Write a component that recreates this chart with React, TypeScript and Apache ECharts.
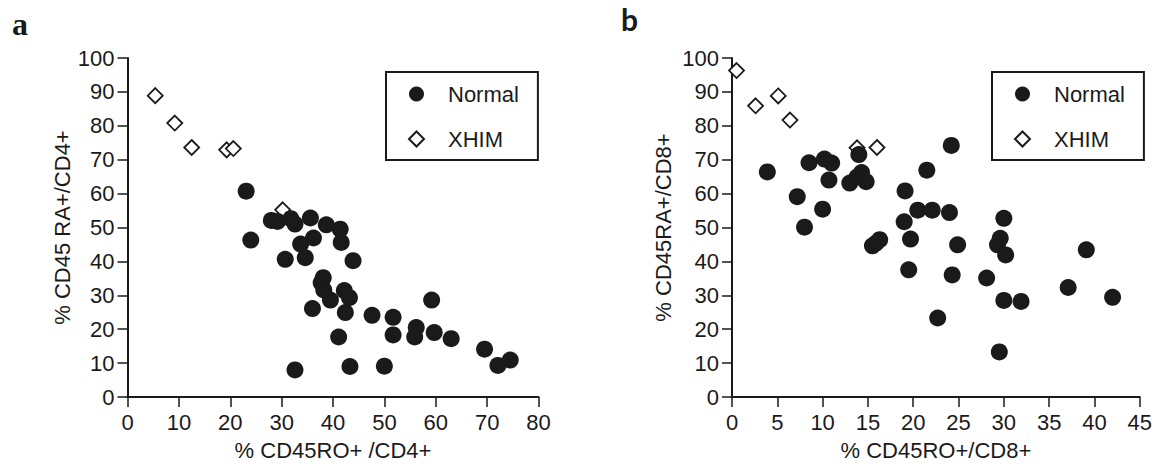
import React, { useEffect, useRef } from "react";
import * as echarts from "echarts";

// Panel a: % CD45RO+/CD4+ (x) vs % CD45 RA+/CD4+ (y)
const normalA: [number, number][] = [
  [23.1, 60.7], [24.0, 46.3], [28.0, 52.1], [29.2, 51.8], [31.8, 52.6], [32.6, 51.0],
  [30.7, 40.6], [33.7, 45.1], [34.6, 41.1], [35.6, 52.8], [36.2, 46.9], [36.0, 26.1],
  [38.1, 35.2], [37.7, 33.7], [38.2, 31.6], [39.5, 28.6], [38.7, 50.8], [41.4, 49.5],
  [41.6, 45.6], [43.9, 40.2], [42.2, 31.4], [43.2, 29.3], [42.4, 24.9], [41.1, 17.7],
  [32.6, 8.0], [43.3, 9.0], [47.6, 24.1], [51.7, 23.5], [51.7, 18.3], [50.0, 9.1],
  [56.2, 20.5], [55.9, 17.7], [59.2, 28.6], [59.7, 19.0], [63.0, 17.2], [69.5, 14.1],
  [72.1, 9.3], [74.5, 10.9],
];
const xhimA: [number, number][] = [
  [5.4, 88.9], [9.2, 80.8], [12.5, 73.6], [19.3, 72.9], [20.6, 73.3], [30.2, 55.2],
];

// Panel b: % CD45RO+/CD8+ (x) vs % CD45RA+/CD8+ (y)
const normalB: [number, number][] = [
  [3.9, 66.4], [7.2, 59.1], [8.5, 69.1], [8.0, 50.1], [10.0, 55.4], [10.2, 70.2],
  [11.0, 69.0], [10.7, 64.0], [13.0, 63.1], [14.0, 71.5], [14.3, 66.2], [13.8, 64.9],
  [14.8, 63.5], [15.5, 44.6], [16.3, 46.4], [15.9, 45.4], [19.1, 60.8], [19.0, 51.7],
  [19.7, 46.6], [19.5, 37.5], [20.5, 55.1], [21.5, 66.9], [22.1, 55.1], [22.7, 23.3],
  [24.2, 74.2], [24.0, 54.4], [24.9, 44.9], [24.3, 36.0], [28.1, 35.1], [29.3, 44.9],
  [29.6, 46.8], [30.0, 52.7], [30.2, 41.9], [30.0, 28.5], [31.9, 28.2], [29.5, 13.3],
  [37.1, 32.3], [39.1, 43.4], [42.0, 29.4],
];
const xhimB: [number, number][] = [
  [0.5, 96.3], [2.6, 85.9], [5.1, 88.8], [6.4, 81.7], [13.8, 73.5], [16.0, 73.6],
];

const seriesNames = ["Normal", "XHIM"];
const xNames = ["% CD45RO+ /CD4+", "% CD45RO+/CD8+"];
const yNames = ["% CD45 RA+/CD4+", "% CD45RA+/CD8+"];
const xMax = [80, 45];
const xStep = [10, 5];
const panelLetters = ["a", "b"];

const FONT = "'Liberation Sans', Arial, Helvetica, sans-serif";
const INK = "#1a1a1a";

export default function App() {
  const ref = useRef<HTMLDivElement>(null);
  useEffect(() => {
    if (!ref.current) return;
    const chart = echarts.init(ref.current, null, { renderer: "svg" });
    const axisCommon = {
      axisLine: { lineStyle: { color: INK, width: 2 } },
      axisTick: { length: 10, lineStyle: { color: INK, width: 1.5 } },
      splitLine: { show: false },
      nameLocation: "middle" as const,
      nameTextStyle: { fontSize: 22, color: INK, fontFamily: FONT },
    };
    const xAxes = [0, 1].map((i) => ({
      ...axisCommon,
      type: "value",
      gridIndex: i,
      min: 0,
      max: xMax[i],
      interval: xStep[i],
      name: xNames[i],
      nameGap: 42,
      axisLabel: { fontSize: 22, color: INK, fontFamily: FONT, margin: 14 },
    }));
    const yAxes = [0, 1].map((i) => ({
      ...axisCommon,
      type: "value",
      gridIndex: i,
      min: 0,
      max: 100,
      interval: 10,
      name: yNames[i],
      nameGap: i === 0 ? 54 : 58,
      axisLabel: { fontSize: 22, color: INK, fontFamily: FONT, margin: 13 },
    }));
    const legendCommon = {
      data: seriesNames,
      orient: "vertical" as const,
      top: 72,
      padding: [11, 19, 10, 22],
      itemGap: 23,
      itemWidth: 15,
      itemHeight: 15,
      borderColor: INK,
      borderWidth: 2,
      selectedMode: false,
      textStyle: { fontSize: 22, color: INK, fontFamily: FONT, padding: [0, 0, 0, 19] },
    };
    const mk = (name: string, data: [number, number][], idx: number) =>
      name === "Normal"
        ? {
            name,
            type: "scatter",
            xAxisIndex: idx,
            yAxisIndex: idx,
            data,
            symbol: "circle",
            symbolSize: 17,
            itemStyle: { color: INK, opacity: 1 },
            z: 3,
          }
        : {
            name,
            type: "scatter",
            xAxisIndex: idx,
            yAxisIndex: idx,
            data,
            symbol: "diamond",
            symbolSize: 15,
            itemStyle: { color: "#ffffff", borderColor: INK, borderWidth: 1.8, opacity: 1 },
            z: 2,
          };
    chart.setOption({
      animation: false,
      backgroundColor: "#ffffff",
      grid: [
        { left: 127.5, top: 58, width: 411, height: 339.5 },
        { left: 732, top: 58, width: 409.5, height: 339.5 },
      ],
      xAxis: xAxes,
      yAxis: yAxes,
      legend: [
        { ...legendCommon, left: 386 },
        { ...legendCommon, left: 992 },
      ],
      graphic: [
        {
          type: "text",
          left: 12,
          top: 8,
          style: {
            text: panelLetters[0],
            font: "bold 32px 'Liberation Serif', 'DejaVu Serif', serif",
            fill: INK,
          },
        },
        {
          type: "text",
          left: 621,
          top: 4,
          style: {
            text: panelLetters[1],
            font: "bold 30px Lato, 'Open Sans', sans-serif",
            fill: INK,
          },
        },
      ],
      series: [
        mk("XHIM", xhimA, 0),
        mk("Normal", normalA, 0),
        mk("XHIM", xhimB, 1),
        mk("Normal", normalB, 1),
      ],
    });
    return () => chart.dispose();
  }, []);
  return (
    <div
      ref={ref}
      style={{ position: "fixed", left: 0, top: 0, width: 1155, height: 466, background: "#fff" }}
    />
  );
}
